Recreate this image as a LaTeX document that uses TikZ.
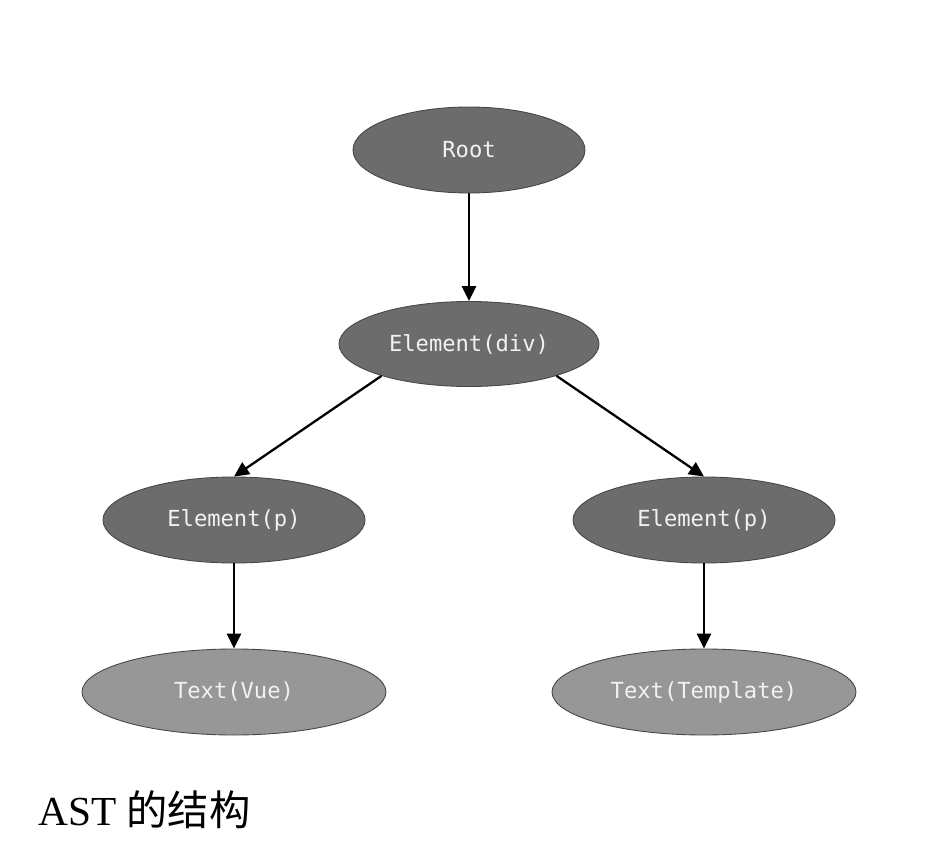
\documentclass[tikz,border=0pt]{standalone}
\usepackage{fontspec}
\setmainfont{Liberation Serif}
\setmonofont{DejaVu Sans Mono}
\newfontfamily\cjk{Noto Sans CJK SC}
\usepackage{tikz}
\usetikzlibrary{arrows.meta,shapes.geometric}
\definecolor{astdark}{RGB}{108,108,108}
\definecolor{astlight}{RGB}{151,151,151}
\definecolor{astedge}{RGB}{70,70,70}
\definecolor{asttext}{RGB}{242,242,242}
\tikzset{
  anode/.style={ellipse, draw=astedge, line width=0.5pt, inner sep=0pt,
    minimum height=1.72cm, text=asttext, font=\ttfamily\fontsize{12.6}{14}\selectfont},
  inner/.style={anode, fill=astdark},
  leaf/.style={anode, fill=astlight, minimum width=6.08cm},
  barr/.style={-{Triangle[length=8.5pt,width=8pt]}, black, line width=1.3pt},
}
\begin{document}
\begin{tikzpicture}
\useasboundingbox (0,0) rectangle (18.88,-16.92);
% tree nodes
\node[inner, minimum width=4.64cm] (root) at (9.38,-3.0) {Root};
\node[inner, minimum width=5.2cm, minimum height=1.7cm] (div) at (9.38,-6.88) {Element(div)};
\node[inner, minimum width=5.24cm] (pl) at (4.68,-10.4) {Element(p)};
\node[inner, minimum width=5.24cm] (pr) at (14.08,-10.4) {Element(p)};
\node[leaf] (tl) at (4.68,-13.84) {Text(Vue)};
\node[leaf] (tr) at (14.08,-13.84) {Text(Template)};
% edges
\draw[barr] (root) -- (div);
\draw[barr] (div.200) -- (pl.north);
\draw[barr] (div.340) -- (pr.north);
\draw[barr] (pl) -- (tl);
\draw[barr] (pr) -- (tr);
% caption
\node[anchor=base west, inner sep=0pt, font=\fontsize{23.5}{26}\selectfont] (cap) at (0.76,-16.5) {AST {\cjk 的结构}};
\end{tikzpicture}
\end{document}
